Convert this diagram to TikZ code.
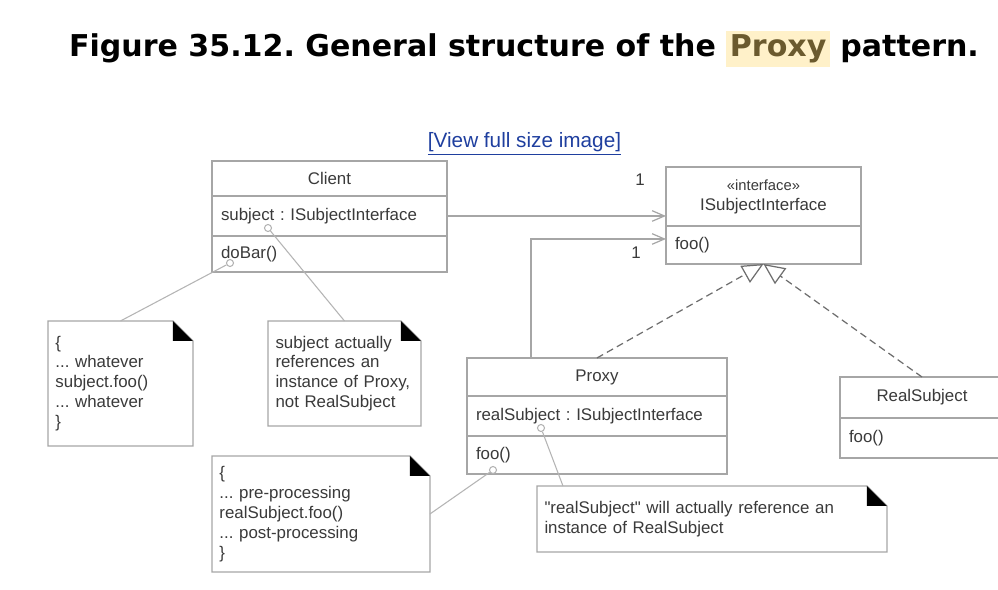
\documentclass[tikz,border=0pt]{standalone}
\usepackage{fontspec}
\setmainfont{Liberation Sans}
\newfontfamily\titlefont{DejaVu Sans}
\usepackage{xcolor}
\usetikzlibrary{arrows.meta,positioning}
\frenchspacing

\definecolor{linegray}{HTML}{A6A6A6}
\definecolor{pingray}{HTML}{B4B4B4}
\definecolor{textgray}{HTML}{3A3A3A}
\definecolor{dashgray}{HTML}{6E6E6E}
\definecolor{linkblue}{HTML}{1F3F9F}
\definecolor{proxybrown}{HTML}{6B5A2E}
\definecolor{proxyhl}{HTML}{FFF1C9}

\tikzset{
  comp/.style={draw=linegray, line width=0.7pt, anchor=north west, outer sep=0pt,
    inner xsep=0.18cm, inner ysep=0pt, text=textgray,
    font=\fontsize{9.6}{11.3}\selectfont},
  note/.style={anchor=north west, outer sep=0pt, inner xsep=0.15cm, inner ysep=0pt,
    align=left, text=textgray, font=\fontsize{9.6}{11.3}\selectfont},
  pinc/.style={circle, draw=pingray, fill=white, line width=0.6pt,
    minimum size=0.14cm, inner sep=0pt},
  mult/.style={text=textgray, font=\fontsize{9.6}{11}\selectfont, inner sep=1pt},
  assoc/.style={draw=linegray, line width=0.7pt, -{Straight Barb[length=7pt,width=6pt]}},
  realize/.style={draw=dashgray, line width=0.7pt, dash pattern=on 4pt off 2.5pt,
    -{Triangle[open, length=12pt, width=11pt, fill=white]}},
  pinline/.style={draw=pingray, line width=0.6pt},
}

\begin{document}
\begin{tikzpicture}[x=0.02cm, y=-0.02cm]
  \fill[white] (0,0) rectangle (998,590);
  \useasboundingbox (0,0) rectangle (998,590);

  % heading and link
  \node[font=\titlefont\bfseries\fontsize{17.1}{20}\selectfont] (title) at (524,49)
    {Figure 35.12. General structure of the {\setlength{\fboxsep}{2pt}\colorbox{proxyhl}{\textcolor{proxybrown}{Proxy}}} pattern.};
  \node[text=linkblue, font=\fontsize{11.8}{13}\selectfont] (viewLink) at (524.5,144)
    {\underline{[View full size image]}};

  % Client
  \node[comp, minimum width=4.7cm, minimum height=0.7cm] (clientN) at (212,161) {Client};
  \node[comp, minimum width=4.7cm, minimum height=0.8cm, text width=4.34cm, align=left]
    (clientA) at (clientN.south west) {subject : ISubjectInterface};
  \node[comp, minimum width=4.7cm, minimum height=0.72cm, text width=4.34cm, align=left]
    (clientO) at (clientA.south west) {doBar()};

  % ISubjectInterface
  \node[comp, minimum width=3.9cm, minimum height=1.18cm, align=center] (ifaceN) at (666,167)
    {{\fontsize{8.4}{10}\selectfont «interface»}\\ISubjectInterface};
  \node[comp, minimum width=3.9cm, minimum height=0.76cm, text width=3.54cm, align=left]
    (ifaceO) at (ifaceN.south west) {foo()};

  % Proxy
  \node[comp, minimum width=5.2cm, minimum height=0.76cm] (proxyN) at (467,358) {Proxy};
  \node[comp, minimum width=5.2cm, minimum height=0.8cm, text width=4.84cm, align=left]
    (proxyA) at (proxyN.south west) {realSubject : ISubjectInterface};
  \node[comp, minimum width=5.2cm, minimum height=0.76cm, text width=4.84cm, align=left]
    (proxyO) at (proxyA.south west) {foo()};

  % RealSubject
  \node[comp, minimum width=3.28cm, minimum height=0.82cm] (realN) at (840,377) {RealSubject};
  \node[comp, minimum width=3.28cm, minimum height=0.8cm, text width=2.92cm, align=left]
    (realO) at (realN.south west) {foo()};

  % associations
  \draw[assoc] (clientA.east) -- (clientA.east -| ifaceN.west);
  \draw[assoc] ([xshift=-1.32cm]proxyN.north) |- ([yshift=0.12cm]ifaceO.west);
  \node[mult] (multA) at (640,180) {1};
  \node[mult] (multB) at (636,253) {1};

  % realizations
  \draw[realize] (proxyN.north) -- (ifaceO.south);
  \draw[realize] (realN.north) -- (ifaceO.south);

  % notes
  \node[note, minimum width=2.88cm, minimum height=2.5cm, text width=2.6cm] (noteBar) at (48,321)
    {\{\\... whatever\\subject.foo()\\... whatever\\\}};
  \node[note, minimum width=3.06cm, minimum height=2.1cm, text width=2.76cm] (noteSubj) at (268,321)
    {subject actually\\references an\\instance of Proxy,\\not RealSubject};
  \node[note, minimum width=4.36cm, minimum height=2.32cm, text width=4.06cm] (noteFoo) at (212,456)
    {\{\\... pre-processing\\realSubject.foo()\\... post-processing\\\}};
  \node[note, minimum width=7cm, minimum height=1.32cm, text width=6.7cm] (noteReal) at (537,486)
    {\textquotedbl realSubject\textquotedbl{} will actually reference an\\instance of RealSubject};
  \foreach \n in {noteBar,noteSubj,noteFoo,noteReal}{
    \draw[linegray, line width=0.7pt] (\n.north west) -- ([xshift=-0.4cm]\n.north east)
      -- ([yshift=-0.4cm]\n.north east) -- (\n.south east) -- (\n.south west) -- cycle;
    \fill[black] ([xshift=-0.4cm]\n.north east) -- ([xshift=-0.4cm,yshift=-0.4cm]\n.north east)
      -- ([yshift=-0.4cm]\n.north east) -- cycle;
  }

  % anchors of the notes
  \node[pinc] (barPin) at (230,263) {};
  \node[pinc] (subjPin) at (268,228) {};
  \node[pinc] (fooPin) at (493,470) {};
  \node[pinc] (realPin) at (541,428) {};
  \draw[pinline] (noteBar.north) -- (barPin);
  \draw[pinline] (noteSubj.north) -- (subjPin);
  \draw[pinline] (noteFoo.east) -- (fooPin);
  \draw[pinline] ([xshift=0.52cm]noteReal.north west) -- (realPin);
\end{tikzpicture}
\end{document}
